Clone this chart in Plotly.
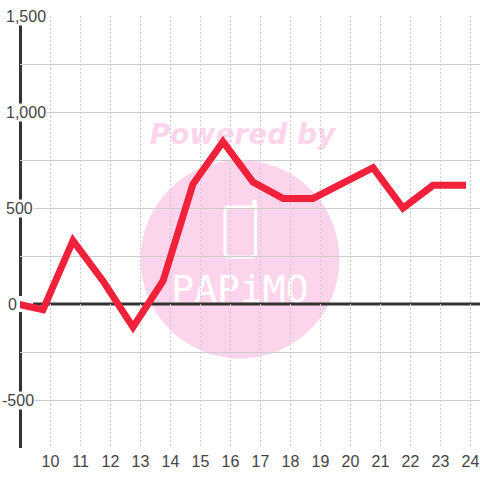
import plotly.graph_objects as go

months = [8.9, 9.75, 10.75, 11.75, 12.75, 13.75, 14.75, 15.75, 16.75, 17.75, 18.75, 19.75, 20.75, 21.75, 22.75, 23.85]
values = [0, -30, 330, 120, -120, 120, 625, 845, 635, 550, 550, 635, 710, 500, 618, 618]
x_ticks = list(range(10, 25))
y_grid = [-750, -500, -250, 250, 500, 750, 1000, 1250, 1500]
y_labels = ["1,500", "1,000", "500", "0", "-500"]
y_label_vals = [1500, 1000, 500, 0, -500]
y_label_left = [5, 5, 5, 7, 1]
watermark_top = "Powered by"
watermark_brand = "PAPiMO"

L, R, T, B = 20, 0, 16, 32
PW, PH = 480 - L - R, 480 - T - B
def px(p): return (p - L) / PW
def py(p): return (480 - B - p) / PH

PINK = "#fcd5ec"
DARK = "#333333"
GRID = "#cccccc"
x0 = 10 - 30.5 / 30

fig = go.Figure()
fig.add_trace(go.Scatter(x=months, y=values, mode="lines", cliponaxis=False,
                         line=dict(color="#f0213a", width=7), hoverinfo="skip"))

shapes = [
    dict(type="circle", xref="paper", yref="paper", layer="below", x0=px(140.5), x1=px(339.5), y0=py(358.5), y1=py(160),
         fillcolor=PINK, line_width=0),
    dict(type="path", xref="paper", yref="paper", layer="below",
         path=(f"M {px(253.5)},{py(203)} L {px(253.5)},{py(207)} L {px(228)},{py(207)} "
               f"Q {px(225)},{py(207)} {px(225)},{py(210)} L {px(225)},{py(253)} "
               f"Q {px(225)},{py(257)} {px(229)},{py(257)} L {px(251)},{py(257)} "
               f"Q {px(255.5)},{py(257)} {px(255.5)},{py(253)} L {px(255.5)},{py(203)} "
               f"Q {px(255.5)},{py(200.5)} {px(253.5)},{py(201)} L {px(253.5)},{py(203)}"),
         line=dict(color="white", width=3), fillcolor="rgba(0,0,0,0)"),
    dict(type="rect", xref="paper", yref="paper", layer="below", x0=px(140), x1=px(345), y0=py(148), y1=py(116),
         fillcolor="rgba(0,0,0,0)", line_width=0,
         label=dict(text=watermark_top, textposition="middle center",
                    font=dict(family="DejaVu Sans", size=28, color=PINK, weight="bold", style="italic"))),
    dict(type="rect", xref="paper", yref="paper", layer="below", x0=px(165), x1=px(315), y0=py(306), y1=py(266),
         fillcolor="rgba(0,0,0,0)", line_width=0,
         label=dict(text=watermark_brand, textposition="middle center",
                    font=dict(family="DejaVu Sans Mono", size=38, color="white"))),
    dict(type="line", xref="paper", yref="y", layer="between", x0=px(33), x1=1, y0=0, y1=0,
         line=dict(color=DARK, width=3)),
    dict(type="line", xref="paper", yref="y", layer="between", x0=px(20.5), x1=px(20.5), y0=1500, y1=42,
         line=dict(color=DARK, width=3)),
    dict(type="line", xref="paper", yref="y", layer="between", x0=px(20.5), x1=px(20.5), y0=-42, y1=-750,
         line=dict(color=DARK, width=3)),
]

annotations = []
for text, val, left in zip(y_labels, y_label_vals, y_label_left):
    annotations.append(dict(text=text, xref="paper", yref="y", x=px(left), y=val, xanchor="left", yanchor="middle",
                            showarrow=False, borderpad=0, bgcolor=None if val == 0 else "white",
                            font=dict(family="Liberation Sans", size=16, color="#444444")))

fig.update_layout(
    width=480, height=480, margin=dict(l=L, r=R, t=T, b=B), showlegend=False,
    paper_bgcolor="white", plot_bgcolor="white", shapes=shapes, annotations=annotations,
    xaxis=dict(range=[x0, x0 + PW / 30], tickmode="array", tickvals=x_ticks, ticks="", showline=False, zeroline=False,
               showgrid=True, gridcolor=GRID, gridwidth=1, griddash="2px,2px", layer="below traces",
               ticklabelstandoff=2,
               tickfont=dict(family="Liberation Sans", size=16, color="#444444")),
    yaxis=dict(range=[-750, 1500], tickmode="array", tickvals=y_grid, showticklabels=False, ticks="", showline=False,
               zeroline=False, showgrid=True, gridcolor=GRID, gridwidth=1, layer="below traces"),
)
fig.write_html("out.html", config={"displayModeBar": False},
               post_script="document.body.style.margin='0';")
